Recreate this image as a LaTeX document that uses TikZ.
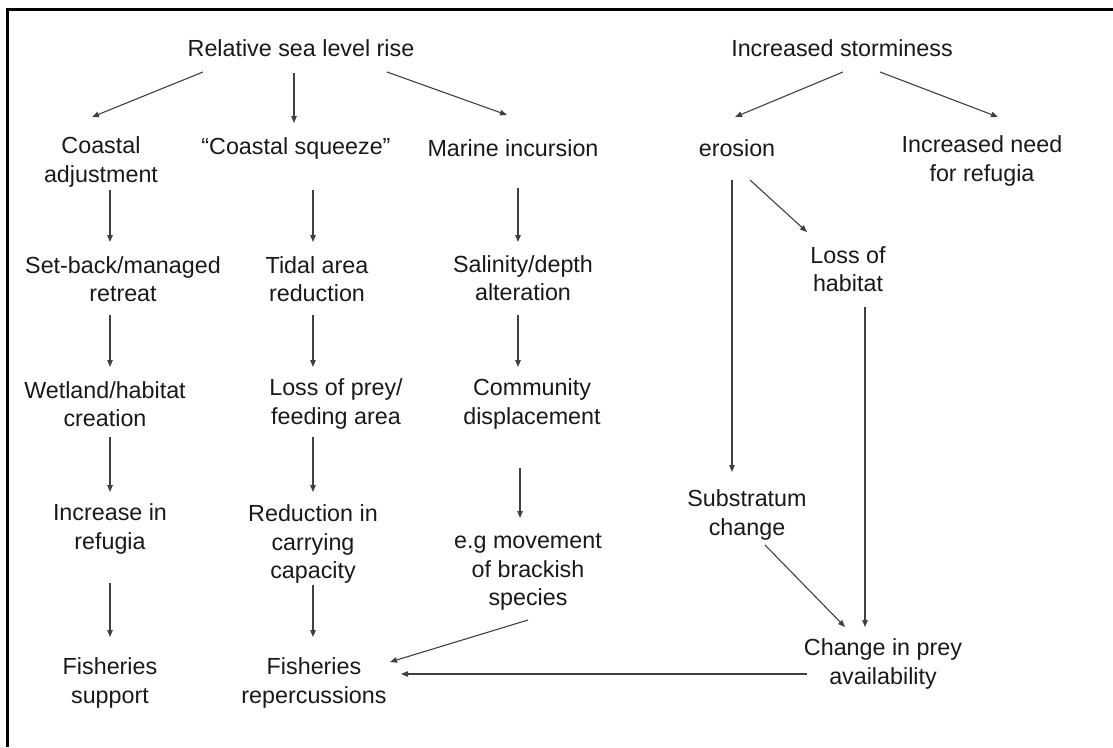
\documentclass[tikz,border=0pt]{standalone}
\usepackage{fontspec}
\setmainfont{Liberation Sans}
\usetikzlibrary{arrows.meta,calc}
\begin{document}
\begin{tikzpicture}[x=1pt,y=-1pt,
  lbl/.style={align=center,inner sep=0pt,font=\fontsize{23.3}{28.5}\selectfont,text=black!90},
  arr/.style={draw=black!75,line width=1.1pt,-{Triangle[length=7pt,width=5.5pt]}},
  frame/.style={line width=3pt,draw=black}]
\useasboundingbox (0,0) rectangle (1113,747);
\draw[frame] (7,747) -- (7,9) -- (1113,9);
% nodes
\node[lbl] (rslr) at (301,48) {Relative sea level rise};
\node[lbl] (storm) at (842,48) {Increased storminess};
\node[lbl] (ca) at (101,162) {Coastal\\adjustment};
\node[lbl] (cs) at (296,148) {“Coastal squeeze”};
\node[lbl] (mi) at (513,148) {Marine incursion};
\node[lbl] (ero) at (737,148) {erosion};
\node[lbl] (ineed) at (982,161) {Increased need\\for refugia};
\node[lbl] (setback) at (123,279) {Set-back/managed\\retreat};
\node[lbl] (tidal) at (317,279) {Tidal area\\reduction};
\node[lbl] (salinity) at (523,278) {Salinity/depth\\alteration};
\node[lbl] (loh) at (848,269) {Loss of\\habitat};
\node[lbl] (wetland) at (105,404) {Wetland/habitat\\creation};
\node[lbl] (lossprey) at (336,404) {Loss of prey/\\feeding area};
\node[lbl] (community) at (532,404) {Community\\displacement};
\node[lbl] (increase) at (110,529) {Increase in\\refugia};
\node[lbl] (reduction) at (313,544) {Reduction in\\carrying\\capacity};
\node[lbl] (eg) at (528,572) {e.g movement\\of brackish\\species};
\node[lbl] (substratum) at (747,515) {Substratum\\change};
\node[lbl] (cpa) at (883,664) {Change in prey\\availability};
\node[lbl] (fs) at (110,683) {Fisheries\\support};
\node[lbl] (fr) at (314,683) {Fisheries\\repercussions};
% connectors
\draw[arr] ($(rslr)+(-98,24)$) -- ($(ca)+(-9,-45)$);
\draw[arr] ($(rslr)+(-7,25)$) -- ($(cs)+(-2,-25)$);
\draw[arr] ($(rslr)+(86,24)$) -- ($(mi)+(-6,-33)$);
\draw[arr] ($(storm)+(1,24)$) -- ($(ero)+(-2,-31)$);
\draw[arr] ($(storm)+(38,24)$) -- ($(ineed)+(16,-44)$);
\draw[arr] ($(ca)+(9,28)$) -- ($(setback)+(-13,-37)$);
\draw[arr] ($(cs)+(17,42)$) -- ($(tidal)+(-4,-37)$);
\draw[arr] ($(mi)+(5,40)$) -- ($(salinity)+(-5,-36)$);
\draw[arr] ($(setback)+(-13,36)$) -- ($(wetland)+(5,-37)$);
\draw[arr] ($(tidal)+(-4,36)$) -- ($(lossprey)+(-23,-37)$);
\draw[arr] ($(salinity)+(-5,37)$) -- ($(community)+(-14,-37)$);
\draw[arr] ($(wetland)+(5,33)$) -- ($(increase)+(0,-37)$);
\draw[arr] ($(lossprey)+(-23,33)$) -- ($(reduction)+(0,-52)$);
\draw[arr] ($(community)+(-12,64)$) -- ($(eg)+(-8,-54)$);
\draw[arr] ($(increase)+(0,54)$) -- ($(fs)+(0,-46)$);
\draw[arr] ($(reduction)+(0,41)$) -- ($(fr)+(-1,-46)$);
\draw[arr] ($(eg)+(0,48)$) -- ($(fr)+(76,-21)$);
\draw[arr] ($(cpa)+(-76,10)$) -- ($(fr)+(87,-9)$);
\draw[arr] ($(ero)+(-5,32)$) -- ($(substratum)+(-15,-43)$);
\draw[arr] ($(ero)+(13,32)$) -- ($(loh)+(-41,-37)$);
\draw[arr] ($(loh)+(17,38)$) -- ($(cpa)+(-18,-37)$);
\draw[arr] ($(substratum)+(18,30)$) -- ($(cpa)+(-38,-37)$);
\end{tikzpicture}
\end{document}
